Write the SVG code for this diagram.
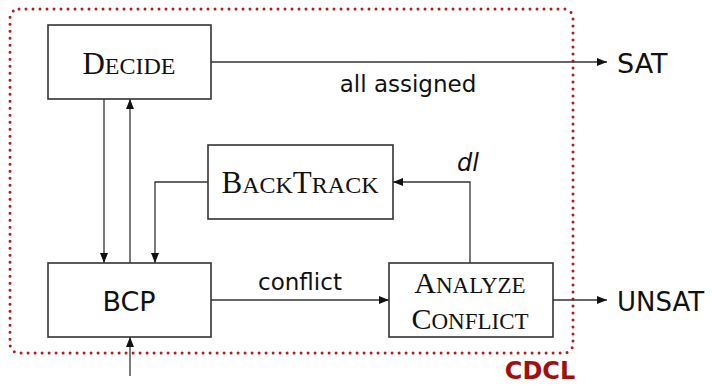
<svg xmlns="http://www.w3.org/2000/svg" width="712" height="386" viewBox="0 0 712 386">
<style>
.box{fill:#fff;stroke:#333;stroke-width:1.6}
.ln{fill:none;stroke:#333;stroke-width:1.3}
.sc{font-family:"Liberation Serif",serif;fill:#111}
.ss{font-family:"DejaVu Sans","Open Sans",sans-serif;fill:#111}
</style>
<defs>
<marker id="ah" viewBox="0 0 10 10" refX="10" refY="5" markerWidth="10" markerHeight="10" markerUnits="userSpaceOnUse" orient="auto">
<path d="M0,1 L10,5 L0,9 Z" fill="#111"/>
</marker>
</defs>
<rect x="10" y="9" width="563" height="344" rx="9" fill="none" stroke="#b01c1c" stroke-width="3" stroke-linecap="round" stroke-dasharray="0 7"/>
<g id="connectors">
<path class="ln" d="M211,62 H607" marker-end="url(#ah)"/>
<path class="ln" d="M104,99 V263" marker-end="url(#ah)"/>
<path class="ln" d="M130,263 V99" marker-end="url(#ah)"/>
<path class="ln" d="M208,182 H155 V263" marker-end="url(#ah)"/>
<path class="ln" d="M211,300 H389" marker-end="url(#ah)"/>
<path class="ln" d="M470,263 V182 H393" marker-end="url(#ah)"/>
<path class="ln" d="M553,300 H607" marker-end="url(#ah)"/>
<path class="ln" d="M130,376 V337" marker-end="url(#ah)"/>
</g>
<g id="decide">
<rect class="box" x="48" y="25" width="163" height="74"/>
<text class="sc" x="129" y="74" text-anchor="middle" font-size="31">D<tspan font-size="24">ECIDE</tspan></text>
</g>
<g id="backtrack">
<rect class="box" x="208" y="145" width="185" height="74"/>
<text class="sc" x="300" y="193" text-anchor="middle" font-size="31">B<tspan font-size="24">ACK</tspan>T<tspan font-size="24">RACK</tspan></text>
</g>
<g id="bcp">
<rect class="box" x="48" y="263" width="163" height="74"/>
<text class="ss" x="129" y="311" text-anchor="middle" font-size="27">BCP</text>
</g>
<g id="analyze">
<rect class="box" x="389" y="263" width="164" height="74"/>
<text class="sc" x="470" y="293" text-anchor="middle" font-size="30">A<tspan font-size="23">NALYZE</tspan></text>
<text class="sc" x="470" y="329" text-anchor="middle" font-size="30">C<tspan font-size="23">ONFLICT</tspan></text>
</g>
<g id="sat"><text class="ss" x="617" y="73" font-size="27">SAT</text></g>
<g id="unsat"><text class="ss" x="617" y="311" font-size="26">UNSAT</text></g>
<text class="ss" x="408" y="92" text-anchor="middle" font-size="23">all assigned</text>
<text class="ss" x="300" y="290" text-anchor="middle" font-size="23">conflict</text>
<text class="ss" x="468" y="171" text-anchor="middle" font-size="24" font-style="italic">dl</text>
<text x="540" y="379" text-anchor="middle" font-family="DejaVu Sans, sans-serif" font-weight="bold" font-size="24" fill="#a01010">CDCL</text>
</svg>
